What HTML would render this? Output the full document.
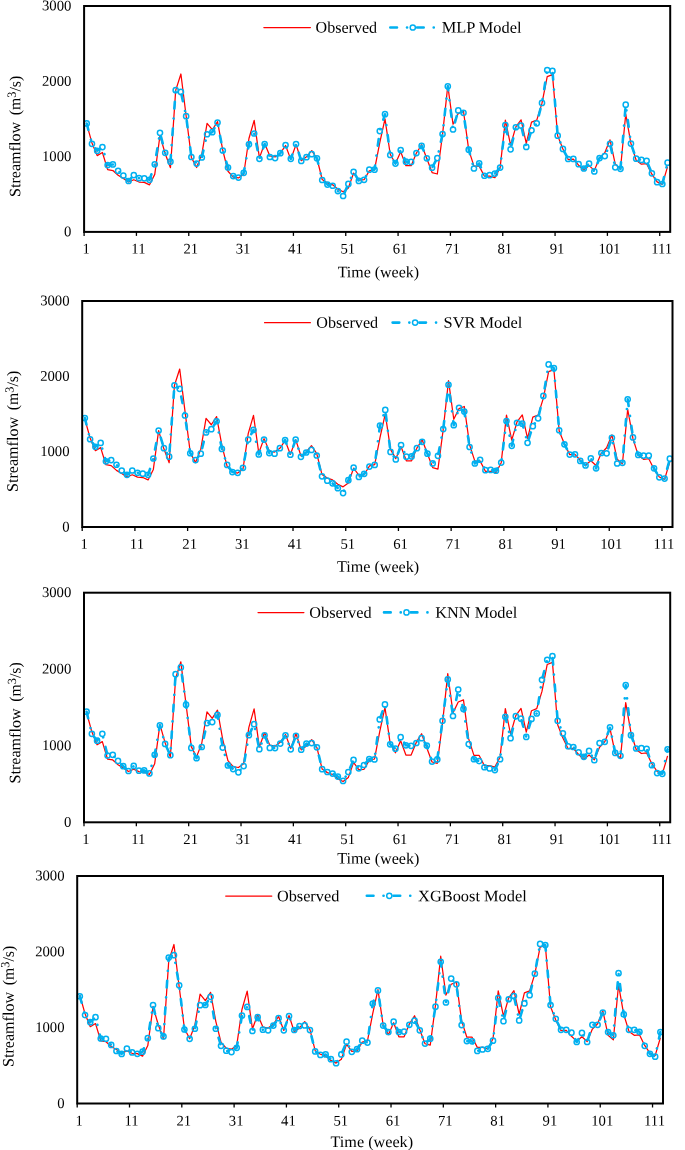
<!DOCTYPE html>
<html><head><meta charset="utf-8"><style>
html,body{margin:0;padding:0;background:#fff;width:685px;height:1150px;overflow:hidden}
svg{display:block}
</style></head><body>
<svg width="685" height="1150" viewBox="0 0 685 1150">
<rect width="685" height="1150" fill="#fff"/>
<polyline points="86.72,124.15 91.95,142.90 97.18,155.62 102.42,152.53 107.65,169.63 112.88,170.53 118.11,175.27 123.35,178.36 128.58,181.90 133.81,179.72 139.05,182.05 144.28,182.43 149.51,184.84 154.75,174.37 159.98,135.52 165.21,153.74 170.45,167.67 175.68,90.41 180.91,74.00 186.14,116.01 191.38,157.43 196.61,167.52 201.84,154.12 207.08,123.32 212.31,129.72 217.54,121.59 222.78,150.27 228.01,171.28 233.24,177.08 238.47,177.99 243.71,174.22 248.94,138.53 254.17,120.38 259.41,157.88 264.64,143.57 269.87,156.00 275.11,156.98 280.34,153.21 285.57,145.53 290.80,159.39 296.04,144.55 301.27,160.67 306.50,156.83 311.74,150.58 316.97,158.48 322.20,179.49 327.44,183.03 332.67,184.84 337.90,189.13 343.14,191.77 348.37,187.92 353.60,173.02 358.83,180.17 364.07,179.72 369.30,170.91 374.53,169.63 379.77,142.59 385.00,118.80 390.23,154.27 395.47,163.53 400.70,151.71 405.93,165.71 411.16,165.71 416.40,153.06 421.63,144.78 426.86,158.71 432.10,172.56 437.33,173.99 442.56,134.31 447.80,85.67 453.03,124.22 458.26,113.53 463.50,111.42 468.73,149.82 473.96,166.09 479.19,166.09 484.43,176.18 489.66,176.18 494.89,177.61 500.13,167.59 505.36,120.08 510.59,145.08 515.83,126.93 521.06,119.85 526.29,143.27 531.52,122.11 536.76,120.08 541.99,103.14 547.22,76.63 552.46,74.60 557.69,135.89 562.92,148.92 568.16,159.54 573.39,159.24 578.62,165.18 583.85,170.00 589.09,165.64 594.32,170.38 599.55,158.03 604.79,152.68 610.02,139.81 615.25,164.21 620.49,168.72 625.72,114.21 630.95,143.57 636.19,160.29 641.42,164.21 646.65,163.68 651.88,174.22 657.12,181.90 662.35,184.31 667.58,166.61" fill="none" stroke="#FF0000" stroke-width="1.25" stroke-linejoin="round"/>
<polyline points="86.72,123.47 91.95,143.80 97.18,150.80 102.42,147.11 107.65,165.03 112.88,164.43 118.11,170.83 123.35,175.50 128.58,181.00 133.81,175.05 139.05,178.14 144.28,178.29 149.51,179.87 154.75,164.28 159.98,132.81 165.21,152.84 170.45,161.72 175.68,90.19 180.91,91.92 186.14,116.16 191.38,156.98 196.61,163.53 201.84,157.50 207.08,134.24 212.31,132.13 217.54,122.49 222.78,150.50 228.01,167.52 233.24,176.10 238.47,177.61 243.71,172.79 248.94,144.25 254.17,133.48 259.41,158.86 264.64,144.10 269.87,156.98 275.11,158.11 280.34,153.21 285.57,145.00 290.80,158.86 296.04,144.10 301.27,160.97 306.50,157.20 311.74,154.19 316.97,158.26 322.20,180.02 327.44,184.61 332.67,185.74 337.90,191.09 343.14,195.98 348.37,183.93 353.60,171.81 358.83,180.92 364.07,179.87 369.30,169.63 374.53,169.63 379.77,131.07 385.00,114.21 390.23,155.02 395.47,163.53 400.70,150.12 405.93,161.72 411.16,161.95 416.40,153.06 421.63,145.91 426.86,158.33 432.10,167.67 437.33,158.03 442.56,134.09 447.80,86.27 453.03,129.49 458.26,110.44 463.50,112.78 468.73,149.67 473.96,168.50 479.19,163.30 484.43,175.73 489.66,175.20 494.89,173.62 500.13,167.59 505.36,125.05 510.59,149.37 515.83,127.23 521.06,125.58 526.29,146.96 531.52,130.32 536.76,123.32 541.99,102.91 547.22,70.08 552.46,70.91 557.69,135.67 562.92,148.92 568.16,159.01 573.39,158.93 578.62,164.21 583.85,168.50 589.09,163.68 594.32,171.43 599.55,158.03 604.79,156.07 610.02,143.87 615.25,167.29 620.49,168.80 625.72,104.72 630.95,143.57 636.19,158.71 641.42,159.91 646.65,160.82 651.88,173.32 657.12,182.13 662.35,184.01 667.58,162.70" fill="none" stroke="#00B0F0" stroke-width="2.6" stroke-dasharray="6.7 10 0.1 9.9" stroke-linecap="round" stroke-linejoin="round"/>
<g fill="none" stroke="#00B0F0" stroke-width="1.5"><circle cx="86.72" cy="123.47" r="2.6"/><circle cx="91.95" cy="143.80" r="2.6"/><circle cx="97.18" cy="150.80" r="2.6"/><circle cx="102.42" cy="147.11" r="2.6"/><circle cx="107.65" cy="165.03" r="2.6"/><circle cx="112.88" cy="164.43" r="2.6"/><circle cx="118.11" cy="170.83" r="2.6"/><circle cx="123.35" cy="175.50" r="2.6"/><circle cx="128.58" cy="181.00" r="2.6"/><circle cx="133.81" cy="175.05" r="2.6"/><circle cx="139.05" cy="178.14" r="2.6"/><circle cx="144.28" cy="178.29" r="2.6"/><circle cx="149.51" cy="179.87" r="2.6"/><circle cx="154.75" cy="164.28" r="2.6"/><circle cx="159.98" cy="132.81" r="2.6"/><circle cx="165.21" cy="152.84" r="2.6"/><circle cx="170.45" cy="161.72" r="2.6"/><circle cx="175.68" cy="90.19" r="2.6"/><circle cx="180.91" cy="91.92" r="2.6"/><circle cx="186.14" cy="116.16" r="2.6"/><circle cx="191.38" cy="156.98" r="2.6"/><circle cx="196.61" cy="163.53" r="2.6"/><circle cx="201.84" cy="157.50" r="2.6"/><circle cx="207.08" cy="134.24" r="2.6"/><circle cx="212.31" cy="132.13" r="2.6"/><circle cx="217.54" cy="122.49" r="2.6"/><circle cx="222.78" cy="150.50" r="2.6"/><circle cx="228.01" cy="167.52" r="2.6"/><circle cx="233.24" cy="176.10" r="2.6"/><circle cx="238.47" cy="177.61" r="2.6"/><circle cx="243.71" cy="172.79" r="2.6"/><circle cx="248.94" cy="144.25" r="2.6"/><circle cx="254.17" cy="133.48" r="2.6"/><circle cx="259.41" cy="158.86" r="2.6"/><circle cx="264.64" cy="144.10" r="2.6"/><circle cx="269.87" cy="156.98" r="2.6"/><circle cx="275.11" cy="158.11" r="2.6"/><circle cx="280.34" cy="153.21" r="2.6"/><circle cx="285.57" cy="145.00" r="2.6"/><circle cx="290.80" cy="158.86" r="2.6"/><circle cx="296.04" cy="144.10" r="2.6"/><circle cx="301.27" cy="160.97" r="2.6"/><circle cx="306.50" cy="157.20" r="2.6"/><circle cx="311.74" cy="154.19" r="2.6"/><circle cx="316.97" cy="158.26" r="2.6"/><circle cx="322.20" cy="180.02" r="2.6"/><circle cx="327.44" cy="184.61" r="2.6"/><circle cx="332.67" cy="185.74" r="2.6"/><circle cx="337.90" cy="191.09" r="2.6"/><circle cx="343.14" cy="195.98" r="2.6"/><circle cx="348.37" cy="183.93" r="2.6"/><circle cx="353.60" cy="171.81" r="2.6"/><circle cx="358.83" cy="180.92" r="2.6"/><circle cx="364.07" cy="179.87" r="2.6"/><circle cx="369.30" cy="169.63" r="2.6"/><circle cx="374.53" cy="169.63" r="2.6"/><circle cx="379.77" cy="131.07" r="2.6"/><circle cx="385.00" cy="114.21" r="2.6"/><circle cx="390.23" cy="155.02" r="2.6"/><circle cx="395.47" cy="163.53" r="2.6"/><circle cx="400.70" cy="150.12" r="2.6"/><circle cx="405.93" cy="161.72" r="2.6"/><circle cx="411.16" cy="161.95" r="2.6"/><circle cx="416.40" cy="153.06" r="2.6"/><circle cx="421.63" cy="145.91" r="2.6"/><circle cx="426.86" cy="158.33" r="2.6"/><circle cx="432.10" cy="167.67" r="2.6"/><circle cx="437.33" cy="158.03" r="2.6"/><circle cx="442.56" cy="134.09" r="2.6"/><circle cx="447.80" cy="86.27" r="2.6"/><circle cx="453.03" cy="129.49" r="2.6"/><circle cx="458.26" cy="110.44" r="2.6"/><circle cx="463.50" cy="112.78" r="2.6"/><circle cx="468.73" cy="149.67" r="2.6"/><circle cx="473.96" cy="168.50" r="2.6"/><circle cx="479.19" cy="163.30" r="2.6"/><circle cx="484.43" cy="175.73" r="2.6"/><circle cx="489.66" cy="175.20" r="2.6"/><circle cx="494.89" cy="173.62" r="2.6"/><circle cx="500.13" cy="167.59" r="2.6"/><circle cx="505.36" cy="125.05" r="2.6"/><circle cx="510.59" cy="149.37" r="2.6"/><circle cx="515.83" cy="127.23" r="2.6"/><circle cx="521.06" cy="125.58" r="2.6"/><circle cx="526.29" cy="146.96" r="2.6"/><circle cx="531.52" cy="130.32" r="2.6"/><circle cx="536.76" cy="123.32" r="2.6"/><circle cx="541.99" cy="102.91" r="2.6"/><circle cx="547.22" cy="70.08" r="2.6"/><circle cx="552.46" cy="70.91" r="2.6"/><circle cx="557.69" cy="135.67" r="2.6"/><circle cx="562.92" cy="148.92" r="2.6"/><circle cx="568.16" cy="159.01" r="2.6"/><circle cx="573.39" cy="158.93" r="2.6"/><circle cx="578.62" cy="164.21" r="2.6"/><circle cx="583.85" cy="168.50" r="2.6"/><circle cx="589.09" cy="163.68" r="2.6"/><circle cx="594.32" cy="171.43" r="2.6"/><circle cx="599.55" cy="158.03" r="2.6"/><circle cx="604.79" cy="156.07" r="2.6"/><circle cx="610.02" cy="143.87" r="2.6"/><circle cx="615.25" cy="167.29" r="2.6"/><circle cx="620.49" cy="168.80" r="2.6"/><circle cx="625.72" cy="104.72" r="2.6"/><circle cx="630.95" cy="143.57" r="2.6"/><circle cx="636.19" cy="158.71" r="2.6"/><circle cx="641.42" cy="159.91" r="2.6"/><circle cx="646.65" cy="160.82" r="2.6"/><circle cx="651.88" cy="173.32" r="2.6"/><circle cx="657.12" cy="182.13" r="2.6"/><circle cx="662.35" cy="184.01" r="2.6"/><circle cx="667.58" cy="162.70" r="2.6"/></g>
<rect x="84.10" y="6.00" width="586.10" height="225.90" fill="none" stroke="#000" stroke-width="2"/>
<g stroke="#000" stroke-width="1.3"><line x1="84.10" y1="231.90" x2="84.10" y2="235.90"/><line x1="136.43" y1="231.90" x2="136.43" y2="235.90"/><line x1="188.76" y1="231.90" x2="188.76" y2="235.90"/><line x1="241.09" y1="231.90" x2="241.09" y2="235.90"/><line x1="293.42" y1="231.90" x2="293.42" y2="235.90"/><line x1="345.75" y1="231.90" x2="345.75" y2="235.90"/><line x1="398.08" y1="231.90" x2="398.08" y2="235.90"/><line x1="450.41" y1="231.90" x2="450.41" y2="235.90"/><line x1="502.74" y1="231.90" x2="502.74" y2="235.90"/><line x1="555.07" y1="231.90" x2="555.07" y2="235.90"/><line x1="607.40" y1="231.90" x2="607.40" y2="235.90"/><line x1="659.73" y1="231.90" x2="659.73" y2="235.90"/></g>
<line x1="263.85" y1="27.6" x2="310.40" y2="27.6" stroke="#FF0000" stroke-width="1.25" stroke-linecap="round"/>
<line x1="390.30" y1="27.5" x2="433.90" y2="27.5" stroke="#00B0F0" stroke-width="2.6" stroke-dasharray="6.7 10 0.1 9.9" stroke-linecap="round"/>
<circle cx="412.80" cy="27.5" r="2.6" fill="none" stroke="#00B0F0" stroke-width="1.5"/>
<polyline points="84.84,419.20 90.11,437.96 95.38,450.69 100.65,447.60 105.92,464.70 111.19,465.60 116.46,470.35 121.73,473.44 127.00,476.98 132.27,474.79 137.54,477.13 142.81,477.51 148.08,479.92 153.35,469.45 158.62,430.57 163.89,448.80 169.16,462.74 174.43,385.45 179.70,369.03 184.98,411.06 190.25,452.50 195.52,462.59 200.79,449.18 206.06,418.37 211.33,424.77 216.60,416.64 221.87,445.34 227.14,466.36 232.41,472.16 237.68,473.06 242.95,469.29 248.22,433.59 253.49,415.43 258.76,452.95 264.03,438.63 269.30,451.06 274.57,452.04 279.85,448.28 285.12,440.59 290.39,454.45 295.66,439.61 300.93,455.73 306.20,451.89 311.47,445.64 316.74,453.55 322.01,474.57 327.28,478.11 332.55,479.92 337.82,484.21 343.09,486.85 348.36,483.01 353.63,468.09 358.90,475.25 364.17,474.79 369.44,465.98 374.71,464.70 379.99,437.65 385.26,413.85 390.53,449.33 395.80,458.60 401.07,446.77 406.34,460.78 411.61,460.78 416.88,448.13 422.15,439.84 427.42,453.78 432.69,467.64 437.96,469.07 443.23,429.37 448.50,380.70 453.77,419.27 459.04,408.58 464.31,406.47 469.58,444.89 474.85,461.16 480.13,461.16 485.40,471.25 490.67,471.25 495.94,472.68 501.21,462.67 506.48,415.13 511.75,440.14 517.02,421.99 522.29,414.90 527.56,438.33 532.83,417.16 538.10,415.13 543.37,398.18 548.64,371.66 553.91,369.63 559.18,430.95 564.45,443.98 569.72,454.60 575.00,454.30 580.27,460.25 585.54,465.08 590.81,460.71 596.08,465.45 601.35,453.10 606.62,447.75 611.89,434.87 617.16,459.28 622.43,463.80 627.70,409.25 632.97,438.63 638.24,455.36 643.51,459.28 648.78,458.75 654.05,469.29 659.32,476.98 664.59,479.39 669.86,461.69" fill="none" stroke="#FF0000" stroke-width="1.25" stroke-linejoin="round"/>
<polyline points="84.84,417.99 90.11,439.24 95.38,446.77 100.65,442.93 105.92,461.31 111.19,460.03 116.46,464.77 121.73,470.50 127.00,474.87 132.27,470.50 137.54,472.76 142.81,473.66 148.08,474.87 153.35,458.52 158.62,430.50 163.89,448.13 169.16,456.71 174.43,385.37 179.70,388.84 184.98,415.51 190.25,453.25 195.52,460.10 200.79,453.70 206.06,432.38 211.33,429.22 216.60,421.23 221.87,448.88 227.14,464.93 232.41,472.08 237.68,472.84 242.95,467.79 248.22,439.61 253.49,429.97 258.76,454.38 264.03,439.54 269.30,453.10 274.57,453.70 279.85,448.20 285.12,439.99 290.39,454.68 295.66,439.69 300.93,456.86 306.20,452.50 311.47,449.93 316.74,455.51 322.01,476.30 327.28,480.67 332.55,483.31 337.82,488.13 343.09,493.10 348.36,480.22 353.63,467.64 358.90,476.90 364.17,473.81 369.44,466.58 374.71,464.93 379.99,425.60 385.26,409.93 390.53,451.89 395.80,459.43 401.07,445.11 406.34,456.64 411.61,456.41 416.88,448.13 422.15,441.87 427.42,453.70 432.69,463.42 437.96,455.81 443.23,429.07 448.50,384.77 453.77,425.22 459.04,407.82 464.31,411.59 469.58,447.00 474.85,463.49 480.13,459.73 485.40,470.20 490.67,469.90 495.94,470.73 501.21,462.59 506.48,421.08 511.75,445.79 517.02,422.81 522.29,423.64 527.56,442.78 532.83,426.20 538.10,418.29 543.37,395.92 548.64,364.43 553.91,368.20 559.18,430.27 564.45,444.28 569.72,454.53 575.00,454.30 580.27,460.93 585.54,465.38 590.81,458.37 596.08,468.32 601.35,453.02 606.62,453.32 611.89,437.73 617.16,463.49 622.43,462.82 627.70,399.23 632.97,437.43 638.24,454.91 643.51,455.58 648.78,455.58 654.05,468.32 659.32,477.28 664.59,478.56 669.86,458.67" fill="none" stroke="#00B0F0" stroke-width="2.6" stroke-dasharray="6.7 10 0.1 9.9" stroke-linecap="round" stroke-linejoin="round"/>
<g fill="none" stroke="#00B0F0" stroke-width="1.5"><circle cx="84.84" cy="417.99" r="2.6"/><circle cx="90.11" cy="439.24" r="2.6"/><circle cx="95.38" cy="446.77" r="2.6"/><circle cx="100.65" cy="442.93" r="2.6"/><circle cx="105.92" cy="461.31" r="2.6"/><circle cx="111.19" cy="460.03" r="2.6"/><circle cx="116.46" cy="464.77" r="2.6"/><circle cx="121.73" cy="470.50" r="2.6"/><circle cx="127.00" cy="474.87" r="2.6"/><circle cx="132.27" cy="470.50" r="2.6"/><circle cx="137.54" cy="472.76" r="2.6"/><circle cx="142.81" cy="473.66" r="2.6"/><circle cx="148.08" cy="474.87" r="2.6"/><circle cx="153.35" cy="458.52" r="2.6"/><circle cx="158.62" cy="430.50" r="2.6"/><circle cx="163.89" cy="448.13" r="2.6"/><circle cx="169.16" cy="456.71" r="2.6"/><circle cx="174.43" cy="385.37" r="2.6"/><circle cx="179.70" cy="388.84" r="2.6"/><circle cx="184.98" cy="415.51" r="2.6"/><circle cx="190.25" cy="453.25" r="2.6"/><circle cx="195.52" cy="460.10" r="2.6"/><circle cx="200.79" cy="453.70" r="2.6"/><circle cx="206.06" cy="432.38" r="2.6"/><circle cx="211.33" cy="429.22" r="2.6"/><circle cx="216.60" cy="421.23" r="2.6"/><circle cx="221.87" cy="448.88" r="2.6"/><circle cx="227.14" cy="464.93" r="2.6"/><circle cx="232.41" cy="472.08" r="2.6"/><circle cx="237.68" cy="472.84" r="2.6"/><circle cx="242.95" cy="467.79" r="2.6"/><circle cx="248.22" cy="439.61" r="2.6"/><circle cx="253.49" cy="429.97" r="2.6"/><circle cx="258.76" cy="454.38" r="2.6"/><circle cx="264.03" cy="439.54" r="2.6"/><circle cx="269.30" cy="453.10" r="2.6"/><circle cx="274.57" cy="453.70" r="2.6"/><circle cx="279.85" cy="448.20" r="2.6"/><circle cx="285.12" cy="439.99" r="2.6"/><circle cx="290.39" cy="454.68" r="2.6"/><circle cx="295.66" cy="439.69" r="2.6"/><circle cx="300.93" cy="456.86" r="2.6"/><circle cx="306.20" cy="452.50" r="2.6"/><circle cx="311.47" cy="449.93" r="2.6"/><circle cx="316.74" cy="455.51" r="2.6"/><circle cx="322.01" cy="476.30" r="2.6"/><circle cx="327.28" cy="480.67" r="2.6"/><circle cx="332.55" cy="483.31" r="2.6"/><circle cx="337.82" cy="488.13" r="2.6"/><circle cx="343.09" cy="493.10" r="2.6"/><circle cx="348.36" cy="480.22" r="2.6"/><circle cx="353.63" cy="467.64" r="2.6"/><circle cx="358.90" cy="476.90" r="2.6"/><circle cx="364.17" cy="473.81" r="2.6"/><circle cx="369.44" cy="466.58" r="2.6"/><circle cx="374.71" cy="464.93" r="2.6"/><circle cx="379.99" cy="425.60" r="2.6"/><circle cx="385.26" cy="409.93" r="2.6"/><circle cx="390.53" cy="451.89" r="2.6"/><circle cx="395.80" cy="459.43" r="2.6"/><circle cx="401.07" cy="445.11" r="2.6"/><circle cx="406.34" cy="456.64" r="2.6"/><circle cx="411.61" cy="456.41" r="2.6"/><circle cx="416.88" cy="448.13" r="2.6"/><circle cx="422.15" cy="441.87" r="2.6"/><circle cx="427.42" cy="453.70" r="2.6"/><circle cx="432.69" cy="463.42" r="2.6"/><circle cx="437.96" cy="455.81" r="2.6"/><circle cx="443.23" cy="429.07" r="2.6"/><circle cx="448.50" cy="384.77" r="2.6"/><circle cx="453.77" cy="425.22" r="2.6"/><circle cx="459.04" cy="407.82" r="2.6"/><circle cx="464.31" cy="411.59" r="2.6"/><circle cx="469.58" cy="447.00" r="2.6"/><circle cx="474.85" cy="463.49" r="2.6"/><circle cx="480.13" cy="459.73" r="2.6"/><circle cx="485.40" cy="470.20" r="2.6"/><circle cx="490.67" cy="469.90" r="2.6"/><circle cx="495.94" cy="470.73" r="2.6"/><circle cx="501.21" cy="462.59" r="2.6"/><circle cx="506.48" cy="421.08" r="2.6"/><circle cx="511.75" cy="445.79" r="2.6"/><circle cx="517.02" cy="422.81" r="2.6"/><circle cx="522.29" cy="423.64" r="2.6"/><circle cx="527.56" cy="442.78" r="2.6"/><circle cx="532.83" cy="426.20" r="2.6"/><circle cx="538.10" cy="418.29" r="2.6"/><circle cx="543.37" cy="395.92" r="2.6"/><circle cx="548.64" cy="364.43" r="2.6"/><circle cx="553.91" cy="368.20" r="2.6"/><circle cx="559.18" cy="430.27" r="2.6"/><circle cx="564.45" cy="444.28" r="2.6"/><circle cx="569.72" cy="454.53" r="2.6"/><circle cx="575.00" cy="454.30" r="2.6"/><circle cx="580.27" cy="460.93" r="2.6"/><circle cx="585.54" cy="465.38" r="2.6"/><circle cx="590.81" cy="458.37" r="2.6"/><circle cx="596.08" cy="468.32" r="2.6"/><circle cx="601.35" cy="453.02" r="2.6"/><circle cx="606.62" cy="453.32" r="2.6"/><circle cx="611.89" cy="437.73" r="2.6"/><circle cx="617.16" cy="463.49" r="2.6"/><circle cx="622.43" cy="462.82" r="2.6"/><circle cx="627.70" cy="399.23" r="2.6"/><circle cx="632.97" cy="437.43" r="2.6"/><circle cx="638.24" cy="454.91" r="2.6"/><circle cx="643.51" cy="455.58" r="2.6"/><circle cx="648.78" cy="455.58" r="2.6"/><circle cx="654.05" cy="468.32" r="2.6"/><circle cx="659.32" cy="477.28" r="2.6"/><circle cx="664.59" cy="478.56" r="2.6"/><circle cx="669.86" cy="458.67" r="2.6"/></g>
<rect x="82.20" y="301.00" width="590.30" height="226.00" fill="none" stroke="#000" stroke-width="2"/>
<g stroke="#000" stroke-width="1.3"><line x1="82.20" y1="527.00" x2="82.20" y2="531.00"/><line x1="134.91" y1="527.00" x2="134.91" y2="531.00"/><line x1="187.61" y1="527.00" x2="187.61" y2="531.00"/><line x1="240.32" y1="527.00" x2="240.32" y2="531.00"/><line x1="293.02" y1="527.00" x2="293.02" y2="531.00"/><line x1="345.73" y1="527.00" x2="345.73" y2="531.00"/><line x1="398.43" y1="527.00" x2="398.43" y2="531.00"/><line x1="451.14" y1="527.00" x2="451.14" y2="531.00"/><line x1="503.84" y1="527.00" x2="503.84" y2="531.00"/><line x1="556.55" y1="527.00" x2="556.55" y2="531.00"/><line x1="609.25" y1="527.00" x2="609.25" y2="531.00"/><line x1="661.96" y1="527.00" x2="661.96" y2="531.00"/></g>
<line x1="264.55" y1="322.7" x2="310.40" y2="322.7" stroke="#FF0000" stroke-width="1.25" stroke-linecap="round"/>
<line x1="392.60" y1="322.6" x2="436.20" y2="322.6" stroke="#00B0F0" stroke-width="2.6" stroke-dasharray="6.7 10 0.1 9.9" stroke-linecap="round"/>
<circle cx="415.10" cy="322.6" r="2.6" fill="none" stroke="#00B0F0" stroke-width="1.5"/>
<polyline points="86.62,712.78 91.85,731.84 97.08,744.77 102.32,741.63 107.55,759.01 112.79,759.93 118.02,764.75 123.25,767.88 128.49,771.48 133.72,769.26 138.96,771.63 144.19,772.02 149.42,774.47 154.66,763.83 159.89,724.34 165.13,742.86 170.36,757.02 175.59,678.49 180.83,661.81 186.06,704.52 191.30,746.61 196.53,756.86 201.76,743.24 207.00,711.94 212.23,718.44 217.47,710.18 222.70,739.34 227.93,760.69 233.17,766.58 238.40,767.50 243.63,763.68 248.87,727.40 254.10,708.95 259.34,747.07 264.57,732.53 269.80,745.15 275.04,746.15 280.27,742.32 285.51,734.52 290.74,748.60 295.97,733.52 301.21,749.90 306.44,746.00 311.68,739.64 316.91,747.68 322.14,769.03 327.38,772.63 332.61,774.47 337.85,778.83 343.08,781.51 348.31,777.60 353.55,762.45 358.78,769.72 364.02,769.26 369.25,760.31 374.48,759.01 379.72,731.53 384.95,707.35 390.18,743.39 395.42,752.81 400.65,740.79 405.89,755.03 411.12,755.03 416.35,742.17 421.59,733.75 426.82,747.91 432.06,761.99 437.29,763.45 442.52,723.11 447.76,673.67 452.99,712.86 458.23,701.99 463.46,699.85 468.69,738.88 473.93,755.41 479.16,755.41 484.40,765.67 489.63,765.67 494.86,767.12 500.10,756.94 505.33,708.65 510.57,734.06 515.80,715.61 521.03,708.42 526.27,732.22 531.50,710.71 536.73,708.65 541.97,691.43 547.20,664.49 552.44,662.42 557.67,724.72 562.90,737.96 568.14,748.75 573.37,748.45 578.61,754.49 583.84,759.39 589.07,754.95 594.31,759.77 599.54,747.22 604.78,741.79 610.01,728.70 615.24,753.50 620.48,758.09 625.71,702.68 630.95,732.53 636.18,749.52 641.41,753.50 646.65,752.96 651.88,763.68 657.12,771.48 662.35,773.93 667.58,755.95" fill="none" stroke="#FF0000" stroke-width="1.25" stroke-linejoin="round"/>
<polyline points="86.62,711.71 91.85,733.83 97.08,740.64 102.32,733.83 107.55,755.49 112.79,754.80 118.02,760.92 123.25,766.20 128.49,771.02 133.72,765.97 138.96,770.72 144.19,770.41 149.42,773.40 154.66,754.80 159.89,725.41 165.13,743.93 170.36,755.18 175.59,674.21 180.83,667.47 186.06,704.67 191.30,747.91 196.53,758.24 201.76,746.99 207.00,723.11 212.23,722.12 217.47,714.92 222.70,747.53 227.93,765.44 233.17,769.03 238.40,772.32 243.63,766.12 248.87,735.13 254.10,724.18 259.34,749.13 264.57,735.28 269.80,747.91 275.04,748.06 280.27,743.55 285.51,735.28 290.74,749.36 295.97,735.97 301.21,749.67 306.44,743.62 311.68,743.09 316.91,747.30 322.14,769.19 327.38,772.02 332.61,773.62 337.85,776.61 343.08,780.97 348.31,772.02 353.55,759.93 358.78,768.34 364.02,764.98 369.25,759.01 374.48,759.39 379.72,719.44 384.95,704.44 390.18,744.31 395.42,748.67 400.65,737.19 405.89,745.31 411.12,745.84 416.35,743.01 421.59,738.19 426.82,745.54 432.06,761.53 437.29,759.39 442.52,720.74 447.76,679.41 452.99,716.00 458.23,689.51 463.46,708.88 468.69,744.08 473.93,759.24 479.16,761.07 484.40,767.27 489.63,768.50 494.86,770.03 500.10,759.24 505.33,716.84 510.57,738.19 515.80,716.22 521.03,718.67 526.27,736.97 531.50,718.90 536.73,713.47 541.97,679.79 547.20,659.82 552.44,656.07 557.67,720.82 562.90,733.29 568.14,746.23 573.37,746.99 578.61,752.27 583.84,756.86 589.07,750.97 594.31,760.23 599.54,743.09 604.78,741.86 610.01,727.32 615.24,752.88 620.48,755.79 625.71,685.08 630.95,735.21 636.18,748.52 641.41,748.14 646.65,748.83 651.88,765.21 657.12,773.09 662.35,773.78 667.58,749.29" fill="none" stroke="#00B0F0" stroke-width="2.6" stroke-dasharray="6.7 10 0.1 9.9" stroke-linecap="round" stroke-linejoin="round"/>
<g fill="none" stroke="#00B0F0" stroke-width="1.5"><circle cx="86.62" cy="711.71" r="2.6"/><circle cx="91.85" cy="733.83" r="2.6"/><circle cx="97.08" cy="740.64" r="2.6"/><circle cx="102.32" cy="733.83" r="2.6"/><circle cx="107.55" cy="755.49" r="2.6"/><circle cx="112.79" cy="754.80" r="2.6"/><circle cx="118.02" cy="760.92" r="2.6"/><circle cx="123.25" cy="766.20" r="2.6"/><circle cx="128.49" cy="771.02" r="2.6"/><circle cx="133.72" cy="765.97" r="2.6"/><circle cx="138.96" cy="770.72" r="2.6"/><circle cx="144.19" cy="770.41" r="2.6"/><circle cx="149.42" cy="773.40" r="2.6"/><circle cx="154.66" cy="754.80" r="2.6"/><circle cx="159.89" cy="725.41" r="2.6"/><circle cx="165.13" cy="743.93" r="2.6"/><circle cx="170.36" cy="755.18" r="2.6"/><circle cx="175.59" cy="674.21" r="2.6"/><circle cx="180.83" cy="667.47" r="2.6"/><circle cx="186.06" cy="704.67" r="2.6"/><circle cx="191.30" cy="747.91" r="2.6"/><circle cx="196.53" cy="758.24" r="2.6"/><circle cx="201.76" cy="746.99" r="2.6"/><circle cx="207.00" cy="723.11" r="2.6"/><circle cx="212.23" cy="722.12" r="2.6"/><circle cx="217.47" cy="714.92" r="2.6"/><circle cx="222.70" cy="747.53" r="2.6"/><circle cx="227.93" cy="765.44" r="2.6"/><circle cx="233.17" cy="769.03" r="2.6"/><circle cx="238.40" cy="772.32" r="2.6"/><circle cx="243.63" cy="766.12" r="2.6"/><circle cx="248.87" cy="735.13" r="2.6"/><circle cx="254.10" cy="724.18" r="2.6"/><circle cx="259.34" cy="749.13" r="2.6"/><circle cx="264.57" cy="735.28" r="2.6"/><circle cx="269.80" cy="747.91" r="2.6"/><circle cx="275.04" cy="748.06" r="2.6"/><circle cx="280.27" cy="743.55" r="2.6"/><circle cx="285.51" cy="735.28" r="2.6"/><circle cx="290.74" cy="749.36" r="2.6"/><circle cx="295.97" cy="735.97" r="2.6"/><circle cx="301.21" cy="749.67" r="2.6"/><circle cx="306.44" cy="743.62" r="2.6"/><circle cx="311.68" cy="743.09" r="2.6"/><circle cx="316.91" cy="747.30" r="2.6"/><circle cx="322.14" cy="769.19" r="2.6"/><circle cx="327.38" cy="772.02" r="2.6"/><circle cx="332.61" cy="773.62" r="2.6"/><circle cx="337.85" cy="776.61" r="2.6"/><circle cx="343.08" cy="780.97" r="2.6"/><circle cx="348.31" cy="772.02" r="2.6"/><circle cx="353.55" cy="759.93" r="2.6"/><circle cx="358.78" cy="768.34" r="2.6"/><circle cx="364.02" cy="764.98" r="2.6"/><circle cx="369.25" cy="759.01" r="2.6"/><circle cx="374.48" cy="759.39" r="2.6"/><circle cx="379.72" cy="719.44" r="2.6"/><circle cx="384.95" cy="704.44" r="2.6"/><circle cx="390.18" cy="744.31" r="2.6"/><circle cx="395.42" cy="748.67" r="2.6"/><circle cx="400.65" cy="737.19" r="2.6"/><circle cx="405.89" cy="745.31" r="2.6"/><circle cx="411.12" cy="745.84" r="2.6"/><circle cx="416.35" cy="743.01" r="2.6"/><circle cx="421.59" cy="738.19" r="2.6"/><circle cx="426.82" cy="745.54" r="2.6"/><circle cx="432.06" cy="761.53" r="2.6"/><circle cx="437.29" cy="759.39" r="2.6"/><circle cx="442.52" cy="720.74" r="2.6"/><circle cx="447.76" cy="679.41" r="2.6"/><circle cx="452.99" cy="716.00" r="2.6"/><circle cx="458.23" cy="689.51" r="2.6"/><circle cx="463.46" cy="708.88" r="2.6"/><circle cx="468.69" cy="744.08" r="2.6"/><circle cx="473.93" cy="759.24" r="2.6"/><circle cx="479.16" cy="761.07" r="2.6"/><circle cx="484.40" cy="767.27" r="2.6"/><circle cx="489.63" cy="768.50" r="2.6"/><circle cx="494.86" cy="770.03" r="2.6"/><circle cx="500.10" cy="759.24" r="2.6"/><circle cx="505.33" cy="716.84" r="2.6"/><circle cx="510.57" cy="738.19" r="2.6"/><circle cx="515.80" cy="716.22" r="2.6"/><circle cx="521.03" cy="718.67" r="2.6"/><circle cx="526.27" cy="736.97" r="2.6"/><circle cx="531.50" cy="718.90" r="2.6"/><circle cx="536.73" cy="713.47" r="2.6"/><circle cx="541.97" cy="679.79" r="2.6"/><circle cx="547.20" cy="659.82" r="2.6"/><circle cx="552.44" cy="656.07" r="2.6"/><circle cx="557.67" cy="720.82" r="2.6"/><circle cx="562.90" cy="733.29" r="2.6"/><circle cx="568.14" cy="746.23" r="2.6"/><circle cx="573.37" cy="746.99" r="2.6"/><circle cx="578.61" cy="752.27" r="2.6"/><circle cx="583.84" cy="756.86" r="2.6"/><circle cx="589.07" cy="750.97" r="2.6"/><circle cx="594.31" cy="760.23" r="2.6"/><circle cx="599.54" cy="743.09" r="2.6"/><circle cx="604.78" cy="741.86" r="2.6"/><circle cx="610.01" cy="727.32" r="2.6"/><circle cx="615.24" cy="752.88" r="2.6"/><circle cx="620.48" cy="755.79" r="2.6"/><circle cx="625.71" cy="685.08" r="2.6"/><circle cx="630.95" cy="735.21" r="2.6"/><circle cx="636.18" cy="748.52" r="2.6"/><circle cx="641.41" cy="748.14" r="2.6"/><circle cx="646.65" cy="748.83" r="2.6"/><circle cx="651.88" cy="765.21" r="2.6"/><circle cx="657.12" cy="773.09" r="2.6"/><circle cx="662.35" cy="773.78" r="2.6"/><circle cx="667.58" cy="749.29" r="2.6"/></g>
<rect x="84.00" y="592.70" width="586.20" height="229.60" fill="none" stroke="#000" stroke-width="2"/>
<g stroke="#000" stroke-width="1.3"><line x1="84.00" y1="822.30" x2="84.00" y2="826.30"/><line x1="136.34" y1="822.30" x2="136.34" y2="826.30"/><line x1="188.68" y1="822.30" x2="188.68" y2="826.30"/><line x1="241.02" y1="822.30" x2="241.02" y2="826.30"/><line x1="293.36" y1="822.30" x2="293.36" y2="826.30"/><line x1="345.70" y1="822.30" x2="345.70" y2="826.30"/><line x1="398.04" y1="822.30" x2="398.04" y2="826.30"/><line x1="450.38" y1="822.30" x2="450.38" y2="826.30"/><line x1="502.71" y1="822.30" x2="502.71" y2="826.30"/><line x1="555.05" y1="822.30" x2="555.05" y2="826.30"/><line x1="607.39" y1="822.30" x2="607.39" y2="826.30"/><line x1="659.73" y1="822.30" x2="659.73" y2="826.30"/></g>
<line x1="258.00" y1="612.5" x2="303.90" y2="612.5" stroke="#FF0000" stroke-width="1.25" stroke-linecap="round"/>
<line x1="384.00" y1="612.4" x2="427.60" y2="612.4" stroke="#00B0F0" stroke-width="2.6" stroke-dasharray="6.7 10 0.1 9.9" stroke-linecap="round"/>
<circle cx="406.50" cy="612.4" r="2.6" fill="none" stroke="#00B0F0" stroke-width="1.5"/>
<polyline points="79.82,994.98 85.05,1013.87 90.28,1026.68 95.51,1023.57 100.74,1040.79 105.97,1041.70 111.20,1046.47 116.43,1049.58 121.66,1053.15 126.89,1050.95 132.12,1053.30 137.35,1053.68 142.58,1056.10 147.81,1045.56 153.04,1006.43 158.27,1024.79 163.50,1038.81 168.73,961.01 173.96,944.48 179.19,986.79 184.42,1028.50 189.65,1038.66 194.88,1025.16 200.11,994.15 205.34,1000.59 210.57,992.40 215.80,1021.30 221.03,1042.45 226.27,1048.29 231.50,1049.20 236.73,1045.41 241.96,1009.47 247.19,991.19 252.42,1028.96 257.65,1014.55 262.88,1027.06 268.11,1028.05 273.34,1024.25 278.57,1016.52 283.80,1030.47 289.03,1015.53 294.26,1031.76 299.49,1027.89 304.72,1021.60 309.95,1029.56 315.18,1050.72 320.41,1054.28 325.64,1056.10 330.87,1060.43 336.10,1063.08 341.33,1059.21 346.56,1044.20 351.79,1051.40 357.02,1050.95 362.25,1042.08 367.48,1040.79 372.72,1013.56 377.95,989.60 383.18,1025.32 388.41,1034.64 393.64,1022.74 398.87,1036.84 404.10,1036.84 409.33,1024.10 414.56,1015.76 419.79,1029.79 425.02,1043.74 430.25,1045.18 435.48,1005.22 440.71,956.23 445.94,995.06 451.17,984.29 456.40,982.17 461.63,1020.84 466.86,1037.22 472.09,1037.22 477.32,1047.38 482.55,1047.38 487.78,1048.82 493.01,1038.74 498.24,990.89 503.47,1016.06 508.70,997.79 513.93,990.66 519.17,1014.24 524.40,992.93 529.63,990.89 534.86,973.83 540.09,947.13 545.32,945.08 550.55,1006.81 555.78,1019.93 561.01,1030.62 566.24,1030.32 571.47,1036.31 576.70,1041.16 581.93,1036.77 587.16,1041.54 592.39,1029.11 597.62,1023.72 602.85,1010.76 608.08,1035.33 613.31,1039.88 618.54,984.97 623.77,1014.55 629.00,1031.38 634.23,1035.33 639.46,1034.80 644.69,1045.41 649.92,1053.15 655.15,1055.57 660.38,1037.75" fill="none" stroke="#FF0000" stroke-width="1.25" stroke-linejoin="round"/>
<polyline points="79.82,996.27 85.05,1015.08 90.28,1022.13 95.51,1017.13 100.74,1038.51 105.97,1038.74 111.20,1044.88 116.43,1051.02 121.66,1053.90 126.89,1048.60 132.12,1052.39 137.35,1053.83 142.58,1051.63 147.81,1038.21 153.04,1005.07 158.27,1028.20 163.50,1036.39 168.73,957.60 173.96,955.17 179.19,985.28 184.42,1029.49 189.65,1038.81 194.88,1028.73 200.11,1005.22 205.34,1004.99 210.57,996.80 215.80,1028.73 221.03,1045.87 226.27,1050.72 231.50,1052.09 236.73,1047.84 241.96,1015.61 247.19,1006.89 252.42,1031.00 257.65,1017.20 262.88,1029.71 268.11,1030.32 273.34,1025.62 278.57,1018.19 283.80,1030.32 289.03,1015.99 294.26,1030.02 299.49,1026.00 304.72,1025.39 309.95,1030.09 315.18,1051.40 320.41,1054.89 325.64,1054.44 330.87,1059.21 336.10,1063.23 341.33,1054.44 346.56,1041.70 351.79,1051.86 357.02,1049.20 362.25,1040.63 367.48,1042.53 372.72,1003.48 377.95,990.43 383.18,1025.62 388.41,1031.99 393.64,1021.68 398.87,1031.99 404.10,1031.61 409.33,1024.79 414.56,1020.61 419.79,1030.32 425.02,1043.59 430.25,1038.66 435.48,1006.66 440.71,961.77 445.94,1002.49 451.17,978.53 456.40,984.37 461.63,1025.09 466.86,1041.09 472.09,1041.32 477.32,1050.95 482.55,1049.51 487.78,1048.82 493.01,1040.63 498.24,998.09 503.47,1021.22 508.70,999.23 513.93,996.12 519.17,1020.39 524.40,1003.40 529.63,995.21 534.86,973.67 540.09,943.95 545.32,945.08 550.55,1004.99 555.78,1018.87 561.01,1029.79 566.24,1029.79 571.47,1032.67 576.70,1042.00 581.93,1032.90 587.16,1042.00 592.39,1024.79 597.62,1024.79 602.85,1012.58 608.08,1032.07 613.31,1035.25 618.54,973.22 623.77,1014.40 629.00,1029.87 634.23,1029.87 639.46,1031.84 644.69,1045.87 649.92,1053.83 655.15,1056.71 660.38,1031.99" fill="none" stroke="#00B0F0" stroke-width="2.6" stroke-dasharray="6.7 10 0.1 9.9" stroke-linecap="round" stroke-linejoin="round"/>
<g fill="none" stroke="#00B0F0" stroke-width="1.5"><circle cx="79.82" cy="996.27" r="2.6"/><circle cx="85.05" cy="1015.08" r="2.6"/><circle cx="90.28" cy="1022.13" r="2.6"/><circle cx="95.51" cy="1017.13" r="2.6"/><circle cx="100.74" cy="1038.51" r="2.6"/><circle cx="105.97" cy="1038.74" r="2.6"/><circle cx="111.20" cy="1044.88" r="2.6"/><circle cx="116.43" cy="1051.02" r="2.6"/><circle cx="121.66" cy="1053.90" r="2.6"/><circle cx="126.89" cy="1048.60" r="2.6"/><circle cx="132.12" cy="1052.39" r="2.6"/><circle cx="137.35" cy="1053.83" r="2.6"/><circle cx="142.58" cy="1051.63" r="2.6"/><circle cx="147.81" cy="1038.21" r="2.6"/><circle cx="153.04" cy="1005.07" r="2.6"/><circle cx="158.27" cy="1028.20" r="2.6"/><circle cx="163.50" cy="1036.39" r="2.6"/><circle cx="168.73" cy="957.60" r="2.6"/><circle cx="173.96" cy="955.17" r="2.6"/><circle cx="179.19" cy="985.28" r="2.6"/><circle cx="184.42" cy="1029.49" r="2.6"/><circle cx="189.65" cy="1038.81" r="2.6"/><circle cx="194.88" cy="1028.73" r="2.6"/><circle cx="200.11" cy="1005.22" r="2.6"/><circle cx="205.34" cy="1004.99" r="2.6"/><circle cx="210.57" cy="996.80" r="2.6"/><circle cx="215.80" cy="1028.73" r="2.6"/><circle cx="221.03" cy="1045.87" r="2.6"/><circle cx="226.27" cy="1050.72" r="2.6"/><circle cx="231.50" cy="1052.09" r="2.6"/><circle cx="236.73" cy="1047.84" r="2.6"/><circle cx="241.96" cy="1015.61" r="2.6"/><circle cx="247.19" cy="1006.89" r="2.6"/><circle cx="252.42" cy="1031.00" r="2.6"/><circle cx="257.65" cy="1017.20" r="2.6"/><circle cx="262.88" cy="1029.71" r="2.6"/><circle cx="268.11" cy="1030.32" r="2.6"/><circle cx="273.34" cy="1025.62" r="2.6"/><circle cx="278.57" cy="1018.19" r="2.6"/><circle cx="283.80" cy="1030.32" r="2.6"/><circle cx="289.03" cy="1015.99" r="2.6"/><circle cx="294.26" cy="1030.02" r="2.6"/><circle cx="299.49" cy="1026.00" r="2.6"/><circle cx="304.72" cy="1025.39" r="2.6"/><circle cx="309.95" cy="1030.09" r="2.6"/><circle cx="315.18" cy="1051.40" r="2.6"/><circle cx="320.41" cy="1054.89" r="2.6"/><circle cx="325.64" cy="1054.44" r="2.6"/><circle cx="330.87" cy="1059.21" r="2.6"/><circle cx="336.10" cy="1063.23" r="2.6"/><circle cx="341.33" cy="1054.44" r="2.6"/><circle cx="346.56" cy="1041.70" r="2.6"/><circle cx="351.79" cy="1051.86" r="2.6"/><circle cx="357.02" cy="1049.20" r="2.6"/><circle cx="362.25" cy="1040.63" r="2.6"/><circle cx="367.48" cy="1042.53" r="2.6"/><circle cx="372.72" cy="1003.48" r="2.6"/><circle cx="377.95" cy="990.43" r="2.6"/><circle cx="383.18" cy="1025.62" r="2.6"/><circle cx="388.41" cy="1031.99" r="2.6"/><circle cx="393.64" cy="1021.68" r="2.6"/><circle cx="398.87" cy="1031.99" r="2.6"/><circle cx="404.10" cy="1031.61" r="2.6"/><circle cx="409.33" cy="1024.79" r="2.6"/><circle cx="414.56" cy="1020.61" r="2.6"/><circle cx="419.79" cy="1030.32" r="2.6"/><circle cx="425.02" cy="1043.59" r="2.6"/><circle cx="430.25" cy="1038.66" r="2.6"/><circle cx="435.48" cy="1006.66" r="2.6"/><circle cx="440.71" cy="961.77" r="2.6"/><circle cx="445.94" cy="1002.49" r="2.6"/><circle cx="451.17" cy="978.53" r="2.6"/><circle cx="456.40" cy="984.37" r="2.6"/><circle cx="461.63" cy="1025.09" r="2.6"/><circle cx="466.86" cy="1041.09" r="2.6"/><circle cx="472.09" cy="1041.32" r="2.6"/><circle cx="477.32" cy="1050.95" r="2.6"/><circle cx="482.55" cy="1049.51" r="2.6"/><circle cx="487.78" cy="1048.82" r="2.6"/><circle cx="493.01" cy="1040.63" r="2.6"/><circle cx="498.24" cy="998.09" r="2.6"/><circle cx="503.47" cy="1021.22" r="2.6"/><circle cx="508.70" cy="999.23" r="2.6"/><circle cx="513.93" cy="996.12" r="2.6"/><circle cx="519.17" cy="1020.39" r="2.6"/><circle cx="524.40" cy="1003.40" r="2.6"/><circle cx="529.63" cy="995.21" r="2.6"/><circle cx="534.86" cy="973.67" r="2.6"/><circle cx="540.09" cy="943.95" r="2.6"/><circle cx="545.32" cy="945.08" r="2.6"/><circle cx="550.55" cy="1004.99" r="2.6"/><circle cx="555.78" cy="1018.87" r="2.6"/><circle cx="561.01" cy="1029.79" r="2.6"/><circle cx="566.24" cy="1029.79" r="2.6"/><circle cx="571.47" cy="1032.67" r="2.6"/><circle cx="576.70" cy="1042.00" r="2.6"/><circle cx="581.93" cy="1032.90" r="2.6"/><circle cx="587.16" cy="1042.00" r="2.6"/><circle cx="592.39" cy="1024.79" r="2.6"/><circle cx="597.62" cy="1024.79" r="2.6"/><circle cx="602.85" cy="1012.58" r="2.6"/><circle cx="608.08" cy="1032.07" r="2.6"/><circle cx="613.31" cy="1035.25" r="2.6"/><circle cx="618.54" cy="973.22" r="2.6"/><circle cx="623.77" cy="1014.40" r="2.6"/><circle cx="629.00" cy="1029.87" r="2.6"/><circle cx="634.23" cy="1029.87" r="2.6"/><circle cx="639.46" cy="1031.84" r="2.6"/><circle cx="644.69" cy="1045.87" r="2.6"/><circle cx="649.92" cy="1053.83" r="2.6"/><circle cx="655.15" cy="1056.71" r="2.6"/><circle cx="660.38" cy="1031.99" r="2.6"/></g>
<rect x="77.20" y="876.00" width="585.80" height="227.50" fill="none" stroke="#000" stroke-width="2"/>
<g stroke="#000" stroke-width="1.3"><line x1="77.20" y1="1103.50" x2="77.20" y2="1107.50"/><line x1="129.50" y1="1103.50" x2="129.50" y2="1107.50"/><line x1="181.81" y1="1103.50" x2="181.81" y2="1107.50"/><line x1="234.11" y1="1103.50" x2="234.11" y2="1107.50"/><line x1="286.41" y1="1103.50" x2="286.41" y2="1107.50"/><line x1="338.72" y1="1103.50" x2="338.72" y2="1107.50"/><line x1="391.02" y1="1103.50" x2="391.02" y2="1107.50"/><line x1="443.32" y1="1103.50" x2="443.32" y2="1107.50"/><line x1="495.63" y1="1103.50" x2="495.63" y2="1107.50"/><line x1="547.93" y1="1103.50" x2="547.93" y2="1107.50"/><line x1="600.24" y1="1103.50" x2="600.24" y2="1107.50"/><line x1="652.54" y1="1103.50" x2="652.54" y2="1107.50"/></g>
<line x1="225.70" y1="896.1" x2="271.80" y2="896.1" stroke="#FF0000" stroke-width="1.25" stroke-linecap="round"/>
<line x1="366.80" y1="895.8" x2="410.40" y2="895.8" stroke="#00B0F0" stroke-width="2.6" stroke-dasharray="6.7 10 0.1 9.9" stroke-linecap="round"/>
<circle cx="389.30" cy="895.8" r="2.6" fill="none" stroke="#00B0F0" stroke-width="1.5"/>
<g font-family="Liberation Serif" fill="#000" style="filter:grayscale(1)">
<text x="71.40" y="236.30" text-anchor="end" font-size="14.7" transform="rotate(0.1 71.40 236.30)">0</text>
<text x="71.40" y="161.00" text-anchor="end" font-size="14.7" transform="rotate(0.1 71.40 161.00)">1000</text>
<text x="71.40" y="85.70" text-anchor="end" font-size="14.7" transform="rotate(0.1 71.40 85.70)">2000</text>
<text x="71.40" y="10.40" text-anchor="end" font-size="14.7" transform="rotate(0.1 71.40 10.40)">3000</text>
<text x="86.12" y="253.60" text-anchor="middle" font-size="14.7" transform="rotate(0.1 86.12 253.60)">1</text>
<text x="138.45" y="253.60" text-anchor="middle" font-size="14.7" transform="rotate(0.1 138.45 253.60)">11</text>
<text x="190.78" y="253.60" text-anchor="middle" font-size="14.7" transform="rotate(0.1 190.78 253.60)">21</text>
<text x="243.11" y="253.60" text-anchor="middle" font-size="14.7" transform="rotate(0.1 243.11 253.60)">31</text>
<text x="295.44" y="253.60" text-anchor="middle" font-size="14.7" transform="rotate(0.1 295.44 253.60)">41</text>
<text x="347.77" y="253.60" text-anchor="middle" font-size="14.7" transform="rotate(0.1 347.77 253.60)">51</text>
<text x="400.10" y="253.60" text-anchor="middle" font-size="14.7" transform="rotate(0.1 400.10 253.60)">61</text>
<text x="452.43" y="253.60" text-anchor="middle" font-size="14.7" transform="rotate(0.1 452.43 253.60)">71</text>
<text x="504.76" y="253.60" text-anchor="middle" font-size="14.7" transform="rotate(0.1 504.76 253.60)">81</text>
<text x="557.09" y="253.60" text-anchor="middle" font-size="14.7" transform="rotate(0.1 557.09 253.60)">91</text>
<text x="609.42" y="253.60" text-anchor="middle" font-size="14.7" transform="rotate(0.1 609.42 253.60)">101</text>
<text x="661.75" y="253.60" text-anchor="middle" font-size="14.7" transform="rotate(0.1 661.75 253.60)">111</text>
<text x="337.65" y="277.20" font-size="16" textLength="81.47" lengthAdjust="spacingAndGlyphs" transform="rotate(0.1 337.65 277.20)">Time (week)</text>
<text x="315.55" y="32.60" font-size="16" textLength="61.52" lengthAdjust="spacingAndGlyphs" transform="rotate(0.1 315.55 32.60)">Observed</text>
<text x="441.69" y="32.60" font-size="16" textLength="79.75" lengthAdjust="spacingAndGlyphs" transform="rotate(0.1 441.69 32.60)">MLP Model</text>
<g transform="translate(20.20,196.20) rotate(-89.9)"><text x="-0.70" y="0" font-size="16" textLength="74.91" lengthAdjust="spacingAndGlyphs">Streamflow</text><text x="80.86" y="0" font-size="16" textLength="39.51" lengthAdjust="spacingAndGlyphs">(m<tspan font-size="12.5" dy="-4.5">3</tspan><tspan dy="4.5">/s)</tspan></text></g>
<text x="69.50" y="531.40" text-anchor="end" font-size="14.7" transform="rotate(0.1 69.50 531.40)">0</text>
<text x="69.50" y="456.07" text-anchor="end" font-size="14.7" transform="rotate(0.1 69.50 456.07)">1000</text>
<text x="69.50" y="380.73" text-anchor="end" font-size="14.7" transform="rotate(0.1 69.50 380.73)">2000</text>
<text x="69.50" y="305.40" text-anchor="end" font-size="14.7" transform="rotate(0.1 69.50 305.40)">3000</text>
<text x="84.24" y="548.70" text-anchor="middle" font-size="14.7" transform="rotate(0.1 84.24 548.70)">1</text>
<text x="136.94" y="548.70" text-anchor="middle" font-size="14.7" transform="rotate(0.1 136.94 548.70)">11</text>
<text x="189.65" y="548.70" text-anchor="middle" font-size="14.7" transform="rotate(0.1 189.65 548.70)">21</text>
<text x="242.35" y="548.70" text-anchor="middle" font-size="14.7" transform="rotate(0.1 242.35 548.70)">31</text>
<text x="295.06" y="548.70" text-anchor="middle" font-size="14.7" transform="rotate(0.1 295.06 548.70)">41</text>
<text x="347.76" y="548.70" text-anchor="middle" font-size="14.7" transform="rotate(0.1 347.76 548.70)">51</text>
<text x="400.47" y="548.70" text-anchor="middle" font-size="14.7" transform="rotate(0.1 400.47 548.70)">61</text>
<text x="453.17" y="548.70" text-anchor="middle" font-size="14.7" transform="rotate(0.1 453.17 548.70)">71</text>
<text x="505.88" y="548.70" text-anchor="middle" font-size="14.7" transform="rotate(0.1 505.88 548.70)">81</text>
<text x="558.58" y="548.70" text-anchor="middle" font-size="14.7" transform="rotate(0.1 558.58 548.70)">91</text>
<text x="611.29" y="548.70" text-anchor="middle" font-size="14.7" transform="rotate(0.1 611.29 548.70)">101</text>
<text x="663.99" y="548.70" text-anchor="middle" font-size="14.7" transform="rotate(0.1 663.99 548.70)">111</text>
<text x="336.95" y="571.80" font-size="16" textLength="82.18" lengthAdjust="spacingAndGlyphs" transform="rotate(0.1 336.95 571.80)">Time (week)</text>
<text x="316.34" y="327.70" font-size="16" textLength="61.82" lengthAdjust="spacingAndGlyphs" transform="rotate(0.1 316.34 327.70)">Observed</text>
<text x="443.58" y="327.70" font-size="16" textLength="78.64" lengthAdjust="spacingAndGlyphs" transform="rotate(0.1 443.58 327.70)">SVR Model</text>
<g transform="translate(17.80,491.20) rotate(-89.9)"><text x="-0.70" y="0" font-size="16" textLength="74.91" lengthAdjust="spacingAndGlyphs">Streamflow</text><text x="80.96" y="0" font-size="16" textLength="39.51" lengthAdjust="spacingAndGlyphs">(m<tspan font-size="12.5" dy="-4.5">3</tspan><tspan dy="4.5">/s)</tspan></text></g>
<text x="71.30" y="826.70" text-anchor="end" font-size="14.7" transform="rotate(0.1 71.30 826.70)">0</text>
<text x="71.30" y="750.17" text-anchor="end" font-size="14.7" transform="rotate(0.1 71.30 750.17)">1000</text>
<text x="71.30" y="673.63" text-anchor="end" font-size="14.7" transform="rotate(0.1 71.30 673.63)">2000</text>
<text x="71.30" y="597.10" text-anchor="end" font-size="14.7" transform="rotate(0.1 71.30 597.10)">3000</text>
<text x="86.02" y="844.00" text-anchor="middle" font-size="14.7" transform="rotate(0.1 86.02 844.00)">1</text>
<text x="138.36" y="844.00" text-anchor="middle" font-size="14.7" transform="rotate(0.1 138.36 844.00)">11</text>
<text x="190.70" y="844.00" text-anchor="middle" font-size="14.7" transform="rotate(0.1 190.70 844.00)">21</text>
<text x="243.03" y="844.00" text-anchor="middle" font-size="14.7" transform="rotate(0.1 243.03 844.00)">31</text>
<text x="295.37" y="844.00" text-anchor="middle" font-size="14.7" transform="rotate(0.1 295.37 844.00)">41</text>
<text x="347.71" y="844.00" text-anchor="middle" font-size="14.7" transform="rotate(0.1 347.71 844.00)">51</text>
<text x="400.05" y="844.00" text-anchor="middle" font-size="14.7" transform="rotate(0.1 400.05 844.00)">61</text>
<text x="452.39" y="844.00" text-anchor="middle" font-size="14.7" transform="rotate(0.1 452.39 844.00)">71</text>
<text x="504.73" y="844.00" text-anchor="middle" font-size="14.7" transform="rotate(0.1 504.73 844.00)">81</text>
<text x="557.07" y="844.00" text-anchor="middle" font-size="14.7" transform="rotate(0.1 557.07 844.00)">91</text>
<text x="609.41" y="844.00" text-anchor="middle" font-size="14.7" transform="rotate(0.1 609.41 844.00)">101</text>
<text x="661.75" y="844.00" text-anchor="middle" font-size="14.7" transform="rotate(0.1 661.75 844.00)">111</text>
<text x="337.25" y="863.60" font-size="16" textLength="82.08" lengthAdjust="spacingAndGlyphs" transform="rotate(0.1 337.25 863.60)">Time (week)</text>
<text x="309.34" y="617.70" font-size="16" textLength="62.22" lengthAdjust="spacingAndGlyphs" transform="rotate(0.1 309.34 617.70)">Observed</text>
<text x="435.29" y="617.70" font-size="16" textLength="82.00" lengthAdjust="spacingAndGlyphs" transform="rotate(0.1 435.29 617.70)">KNN Model</text>
<g transform="translate(20.30,782.70) rotate(-89.9)"><text x="-0.70" y="0" font-size="16" textLength="74.91" lengthAdjust="spacingAndGlyphs">Streamflow</text><text x="80.86" y="0" font-size="16" textLength="39.51" lengthAdjust="spacingAndGlyphs">(m<tspan font-size="12.5" dy="-4.5">3</tspan><tspan dy="4.5">/s)</tspan></text></g>
<text x="64.50" y="1107.90" text-anchor="end" font-size="14.7" transform="rotate(0.1 64.50 1107.90)">0</text>
<text x="64.50" y="1032.07" text-anchor="end" font-size="14.7" transform="rotate(0.1 64.50 1032.07)">1000</text>
<text x="64.50" y="956.23" text-anchor="end" font-size="14.7" transform="rotate(0.1 64.50 956.23)">2000</text>
<text x="64.50" y="880.40" text-anchor="end" font-size="14.7" transform="rotate(0.1 64.50 880.40)">3000</text>
<text x="79.22" y="1125.60" text-anchor="middle" font-size="14.7" transform="rotate(0.1 79.22 1125.60)">1</text>
<text x="131.52" y="1125.60" text-anchor="middle" font-size="14.7" transform="rotate(0.1 131.52 1125.60)">11</text>
<text x="183.82" y="1125.60" text-anchor="middle" font-size="14.7" transform="rotate(0.1 183.82 1125.60)">21</text>
<text x="236.13" y="1125.60" text-anchor="middle" font-size="14.7" transform="rotate(0.1 236.13 1125.60)">31</text>
<text x="288.43" y="1125.60" text-anchor="middle" font-size="14.7" transform="rotate(0.1 288.43 1125.60)">41</text>
<text x="340.73" y="1125.60" text-anchor="middle" font-size="14.7" transform="rotate(0.1 340.73 1125.60)">51</text>
<text x="393.04" y="1125.60" text-anchor="middle" font-size="14.7" transform="rotate(0.1 393.04 1125.60)">61</text>
<text x="445.34" y="1125.60" text-anchor="middle" font-size="14.7" transform="rotate(0.1 445.34 1125.60)">71</text>
<text x="497.64" y="1125.60" text-anchor="middle" font-size="14.7" transform="rotate(0.1 497.64 1125.60)">81</text>
<text x="549.95" y="1125.60" text-anchor="middle" font-size="14.7" transform="rotate(0.1 549.95 1125.60)">91</text>
<text x="602.25" y="1125.60" text-anchor="middle" font-size="14.7" transform="rotate(0.1 602.25 1125.60)">101</text>
<text x="654.55" y="1125.60" text-anchor="middle" font-size="14.7" transform="rotate(0.1 654.55 1125.60)">111</text>
<text x="330.55" y="1146.90" font-size="16" textLength="82.48" lengthAdjust="spacingAndGlyphs" transform="rotate(0.1 330.55 1146.90)">Time (week)</text>
<text x="276.94" y="901.20" font-size="16" textLength="62.33" lengthAdjust="spacingAndGlyphs" transform="rotate(0.1 276.94 901.20)">Observed</text>
<text x="418.14" y="901.20" font-size="16" textLength="108.60" lengthAdjust="spacingAndGlyphs" transform="rotate(0.1 418.14 901.20)">XGBoost Model</text>
<g transform="translate(13.60,1066.20) rotate(-89.9)"><text x="-0.70" y="0" font-size="16" textLength="74.91" lengthAdjust="spacingAndGlyphs">Streamflow</text><text x="80.96" y="0" font-size="16" textLength="39.51" lengthAdjust="spacingAndGlyphs">(m<tspan font-size="12.5" dy="-4.5">3</tspan><tspan dy="4.5">/s)</tspan></text></g>
</g>
</svg>
</body></html>
